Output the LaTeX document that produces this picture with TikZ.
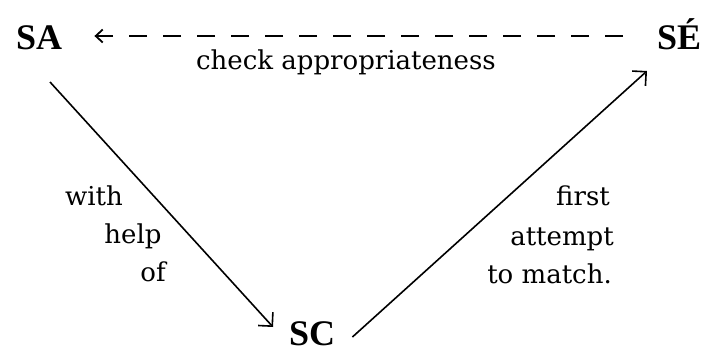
\documentclass[tikz,border=0pt]{standalone}
\usepackage{fontspec}
\setmainfont{DejaVu Serif}
\newfontfamily\lsfont{Liberation Serif}
\usetikzlibrary{arrows.meta,calc}
\tikzset{
  corner/.style={inner sep=0pt, font=\lsfont\bfseries\fontsize{36}{40}\selectfont},
  lbl/.style={inner sep=0pt, font=\fontsize{26}{30}\selectfont},
  arr/.style={line width=1.6pt, -{Straight Barb[length=10pt,width=20pt,line width=1.6pt]}},
  dasharr/.style={line width=2pt, dash pattern=on 18pt off 16pt,
    -{Straight Barb[length=7pt,width=13pt,line width=1.8pt]}}
}
\begin{document}
\begin{tikzpicture}[x=1pt,y=-1pt]
\useasboundingbox (0,0) rectangle (704,354);
% corner nodes
\node[corner, anchor=base west] (SA) at (16,49) {SA};
\node[corner, anchor=base west] (SE) at (657,49) {SÉ};
\node[corner, anchor=base west] (SC) at (289,345) {SC};
% labels
\node[lbl, anchor=base] (chk) at (346,69) {check appropriateness};
\node[lbl, anchor=base] (with) at (94,205) {with};
\node[lbl, anchor=base] (help) at (133,243) {help};
\node[lbl, anchor=base] (of) at (153,281) {of};
\node[lbl, anchor=base east] (first) at (610,205) {first};
\node[lbl, anchor=base east] (attempt) at (614,245) {attempt};
\node[lbl, anchor=base east] (match) at (612,283) {to match.};
% connectors
\draw[dasharr] ($(SE.base west)+(-34,-13)$) -- ($(SA.base east)+(32,-13)$);
\draw[arr] ($(SA.base west)+(34,33)$) -- ($(SC.base west)+(-16,-18)$);
\draw[arr] ($(SC.base east)+(17,-8)$) -- ($(SE.base west)+(-10,22)$);
\end{tikzpicture}
\end{document}
